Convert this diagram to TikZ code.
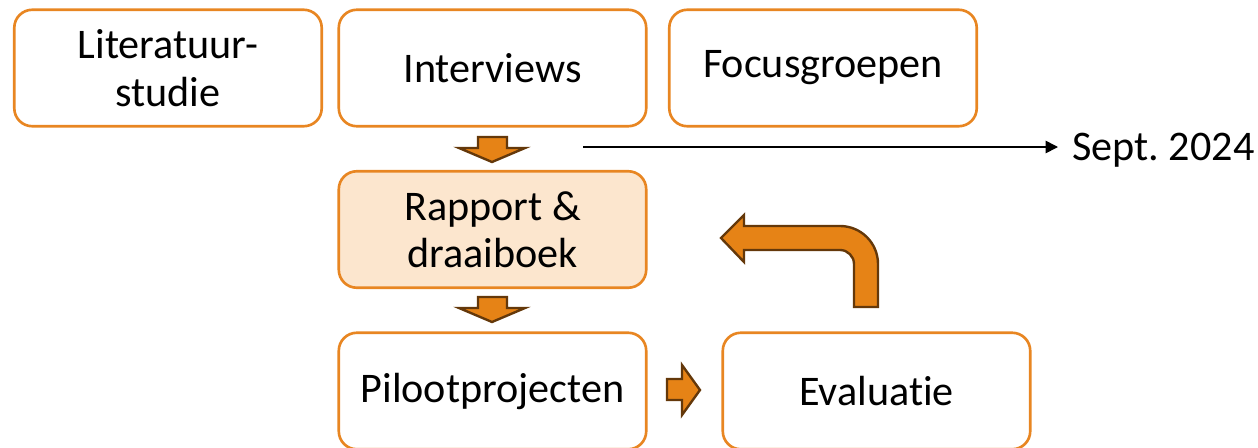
\documentclass[tikz,border=0pt]{standalone}
\usepackage{fontspec}
\setmainfont{Carlito}[Ligatures=NoCommon]
\usetikzlibrary{arrows.meta}
\definecolor{boxorange}{RGB}{232,134,34}
\definecolor{arrfill}{RGB}{230,131,22}
\definecolor{arrline}{RGB}{100,56,10}
\definecolor{rapfill}{RGB}{252,230,206}
\tikzset{
  stepbox/.style={draw=boxorange, line width=1.5pt, fill=white, rounded corners=0.36cm,
    minimum width=6.15cm, minimum height=2.33cm, align=center,
    font=\fontsize{24}{27}\selectfont, inner sep=0pt},
  blockarrow/.style={fill=arrfill, draw=arrline, line width=1.35pt, line join=miter},
  lbl/.style={font=\fontsize{24}{27}\selectfont, inner sep=0pt}
}
\begin{document}
\begin{tikzpicture}[x=0.02cm, y=-0.02cm]
\useasboundingbox (0,0) rectangle (1258,447);
\node[stepbox] (lit) at (168,68) {Literatuur-\\studie};
\node[stepbox] (int) at (492.5,68) {Interviews};
\node[stepbox] (foc) at (823,68) {Focusgroepen};
\node[stepbox, fill=rapfill] (rap) at (492.5,229.5) {Rapport \&\\draaiboek};
\node[stepbox] (pil) at (492.5,391) {Pilootprojecten};
\node[stepbox] (eva) at (876.5,391) {Evaluatie};
\node[lbl, anchor=west] (sept) at (1072,150) {Sept.\ 2024};
\coordinate (sstart) at (583,147);
\draw[line width=0.9pt, -{Triangle[length=7pt,width=7pt]}] (sstart) -- ([xshift=-0.28cm]sept.west |- sstart);
% down arrow 1
\draw[blockarrow] (478,137) -- (507,137) -- (507,148) -- (525,148) -- (492,162) -- (459,148) -- (478,148) -- cycle;
% down arrow 2
\draw[blockarrow] (478,297) -- (507,297) -- (507,308) -- (525,308) -- (492,322) -- (459,308) -- (478,308) -- cycle;
% right arrow
\draw[blockarrow] (667,379) -- (682,379) -- (682,365) -- (700,390) -- (682,415) -- (682,400) -- (667,400) -- cycle;
% bent arrow
\draw[blockarrow] (721,238) -- (744,215) -- (744,226) -- (840,226)
  .. controls (861,226) and (878,243) .. (878,264) -- (878,307) -- (854,307) -- (854,264)
  .. controls (854,256.3) and (847.7,250) .. (840,250) -- (744,250) -- (744,262) -- cycle;
\end{tikzpicture}
\end{document}
